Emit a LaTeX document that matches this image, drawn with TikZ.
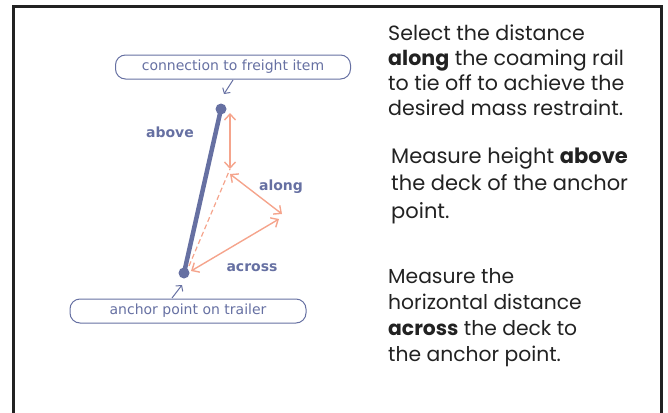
\documentclass[tikz,border=0pt]{standalone}
\usepackage{fontspec}
\setmainfont{Poppins}
\newfontfamily\tagfont{DejaVu Sans}
\usetikzlibrary{arrows.meta}
\definecolor{slate}{HTML}{6670A2}
\definecolor{salmon}{HTML}{F5A48C}
\definecolor{ink}{HTML}{222222}
\tikzset{
  tag/.style={draw=slate, line width=1pt, rounded corners=10pt, minimum height=24pt,
    text=slate, font=\tagfont\fontsize{14}{16}\selectfont},
  dimlabel/.style={text=slate, font=\tagfont\bfseries\fontsize{14}{16}\selectfont},
  dimarrow/.style={salmon, line width=1.4pt, {Straight Barb[length=6pt,width=11pt]}-{Straight Barb[length=6pt,width=11pt]}},
  pointer/.style={slate, line width=1pt, -{Straight Barb[length=4pt,width=9pt]}},
  note/.style={anchor=base west, align=left, inner sep=0pt, text=ink}
}
\begin{document}
\begin{tikzpicture}[x=1pt,y=-1pt]
\useasboundingbox (0,0) rectangle (668,412);
% frame, open at the bottom
\draw[ink, line width=3pt] (13,420) -- (13,7) -- (661,7) -- (661,420);

% pole from anchor to freight item
\coordinate (base) at (184,273);
\coordinate (top) at (221,109);
\draw[slate, line width=4.5pt] (base) -- (top);
\node[circle, fill=slate, minimum size=11pt, inner sep=0pt] (basedot) at (base) {};
\node[circle, fill=slate, minimum size=11pt, inner sep=0pt] (topdot) at (top) {};

% tags
\node[tag, minimum width=235pt] (freight) at (233,67) {connection to freight item};
\node[tag, minimum width=236pt] (anchor) at (188,311) {anchor point on trailer};
\coordinate (fptr) at (224,94);
\coordinate (aptr) at (182,285);
\draw[pointer] (233,80) -- (fptr);
\draw[pointer] (172,298) -- (aptr);

% dimensions
\coordinate (vtop) at (230,113);
\coordinate (vbot) at (230,169);
\coordinate (corner) at (282,214);
\coordinate (alongend) at (230,174);
\draw[dimarrow] (vtop) -- (vbot);
\draw[dimarrow] (alongend) -- (corner);
\draw[dimarrow] (279,219) -- (191,271);
\draw[salmon, line width=1.2pt, dashed, dash pattern=on 5pt off 3pt] (189,266) -- (vbot);

\node[dimlabel] (above) at (170,132) {above};
\node[dimlabel] (along) at (281,187) {along};
\node[dimlabel] (across) at (252,268) {across};

% notes (anchored at the baseline of the last line)
\node[note, font=\fontsize{20.6}{25}\selectfont] (selnote) at (388,115)
  {Select the distance\\\textbf{along} the coaming rail\\to tie off to achieve the\\desired mass restraint.};
\node[note, font=\fontsize{21}{27.5}\selectfont] (abovenote) at (391,218)
  {Measure height \textbf{above}\\the deck of the anchor\\point.};
\node[note, font=\fontsize{20.3}{26}\selectfont] (acrossnote) at (388,361)
  {Measure the\\horizontal distance\\\textbf{across} the deck to\\the anchor point.};
\end{tikzpicture}
\end{document}
